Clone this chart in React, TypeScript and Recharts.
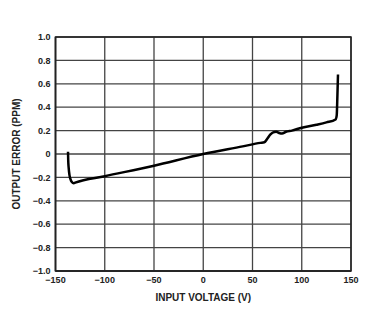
import { LineChart, Line, XAxis, YAxis, CartesianGrid, ReferenceArea } from 'recharts';

// input voltage (V) and output error (ppm)
const voltage = [
  -137.3, -137.1, -136.6, -135.8, -134.8, -133.4, -131.5, -130, -100, -50, 0, 40, 58, 62, 65, 68, 71,
  74, 77, 80, 84, 90, 100, 115, 125, 134.3, 135.5, 136.2, 136.8,
];
const errorPpm = [
  0.02, -0.05, -0.12, -0.18, -0.215, -0.24, -0.25, -0.245, -0.19, -0.1, 0, 0.065, 0.095, 0.1, 0.13,
  0.165, 0.185, 0.19, 0.18, 0.175, 0.19, 0.2, 0.225, 0.25, 0.27, 0.295, 0.33, 0.5, 0.68,
];
const xTicks = [-150, -100, -50, 0, 50, 100, 150];
const yTicks = [-1, -0.8, -0.6, -0.4, -0.2, 0, 0.2, 0.4, 0.6, 0.8, 1];

const data = voltage.map((v, i) => ({ v, err: errorPpm[i] }));

const fmtX = (v: number) => (v < 0 ? `\u2212${Math.abs(v)}` : `${v}`);
const fmtY = (v: number) => {
  if (v === 0) return '0';
  const s = Math.abs(v).toFixed(1);
  return v < 0 ? `\u2212${s}` : s;
};

const tickStyle = { fill: '#222', fontSize: 9, fontWeight: 700, fontFamily: '"Liberation Sans", Arial, sans-serif' };
const titleStyle = { fill: '#222', fontSize: 10, fontWeight: 700, fontFamily: '"Liberation Sans", Arial, sans-serif' };

export default function App() {
  return (
    <div style={{ position: 'absolute', left: 0, top: 0, background: '#fff' }}>
      <LineChart width={386} height={324} data={data} margin={{ top: 37, right: 35, bottom: 23, left: 0 }}>
        <CartesianGrid stroke="#444" strokeWidth={1.3} />
        <XAxis
          type="number"
          dataKey="v"
          domain={[-150, 150]}
          ticks={xTicks}
          tickFormatter={fmtX}
          tick={tickStyle}
          tickLine={false}
          tickSize={3}
          tickMargin={3}
          axisLine={{ stroke: '#222', strokeWidth: 1.5 }}
          height={30}
          label={{ value: 'INPUT VOLTAGE (V)', position: 'insideBottom', offset: 0, style: titleStyle }}
        />
        <YAxis
          type="number"
          domain={[-1, 1]}
          ticks={yTicks}
          tickFormatter={fmtY}
          tick={tickStyle}
          tickLine={false}
          tickSize={3}
          tickMargin={2}
          axisLine={{ stroke: '#222', strokeWidth: 1.5 }}
          width={55.5}
          label={{
            value: 'OUTPUT ERROR (PPM)',
            angle: -90,
            position: 'insideLeft',
            offset: 16,
            style: { ...titleStyle, textAnchor: 'middle' },
          }}
        />
        <ReferenceArea x1={-150} x2={150} y1={-1} y2={1} fill="none" stroke="#222" strokeWidth={1.5} />
        <Line
          type="monotone"
          dataKey="err"
          stroke="#000"
          strokeWidth={2.5}
          dot={false}
          isAnimationActive={false}
        />
      </LineChart>
    </div>
  );
}
